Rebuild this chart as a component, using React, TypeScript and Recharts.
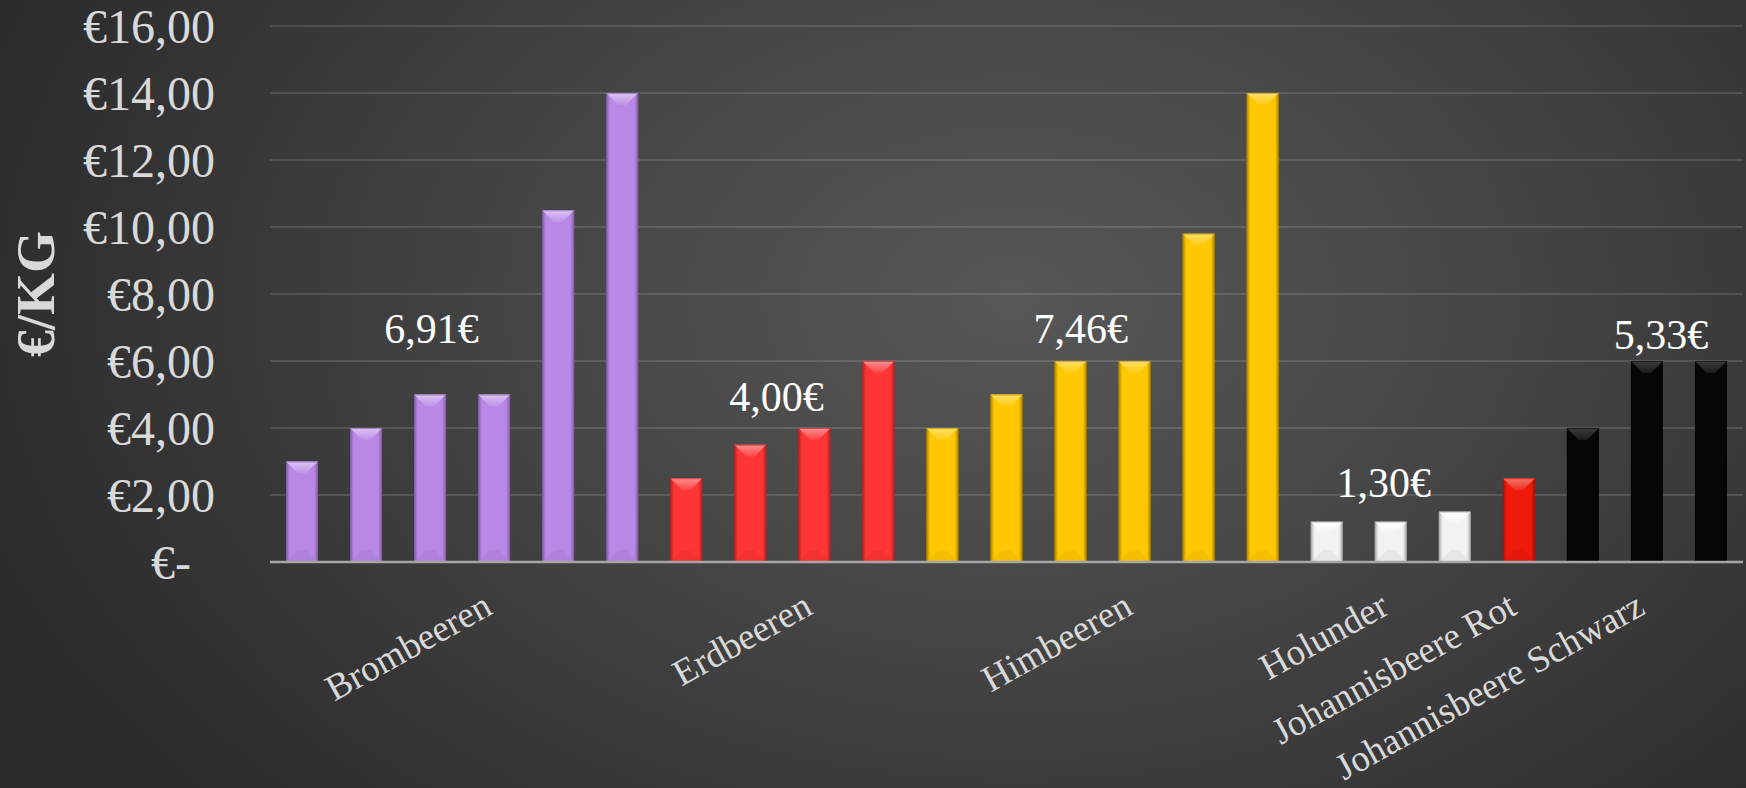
import React from 'react';
import { ComposedChart, Bar, XAxis, YAxis, CartesianGrid, Cell, ReferenceDot } from 'recharts';

// ---- data ----
const groups = ['Brombeeren', 'Erdbeeren', 'Himbeeren', 'Holunder', 'Johannisbeere Rot', 'Johannisbeere Schwarz'];
const brombeeren = [3, 4, 5, 5, 10.5, 14];
const erdbeeren = [2.5, 3.5, 4, 6];
const himbeeren = [4, 5, 6, 6, 9.8, 14];
const holunder = [1.2, 1.2, 1.5];
const johannisbeereRot = [2.5];
const johannisbeereSchwarz = [4, 6, 6];
const groupValues = [brombeeren, erdbeeren, himbeeren, holunder, johannisbeereRot, johannisbeereSchwarz];
// bar (within group) under which each category label is printed
const labelBarInGroup = [3, 2, 3, 1, 0, 1];
const yTicks = [0, 2, 4, 6, 8, 10, 12, 14, 16];
// average annotations: position in bar-index units and value units
const avgTexts = ['6,91€', '4,00€', '7,46€', '1,30€', '5,33€'];
const avgX = [2.02, 7.41, 12.16, 16.89, 21.22];
const avgY = [6.97, 4.94, 6.96, 2.36, 6.78];

// ---- styles ----
const groupColors = ['#b987e6', '#ff3434', '#ffc800', '#f2f2f2', '#ee1a0c', '#060606'];
const groupLight = [0.5, 0.45, 0.4, 1, 0.4, 0.22];
const FONT = "'Times New Roman', 'Liberation Serif', serif";
const TEXT = '#d9d9d9';

type Row = { key: string; idx: number; value: number; color: string; light: number; label: string | null };
const data: Row[] = [];
groups.forEach((g, gi) => {
  groupValues[gi].forEach((v, bi) => {
    data.push({
      key: `${g}-${bi}`,
      idx: data.length,
      value: v,
      color: groupColors[gi],
      light: groupLight[gi],
      label: bi === labelBarInGroup[gi] ? g : null,
    });
  });
});

function shade(hex: string, amt: number): string {
  const n = parseInt(hex.slice(1), 16);
  let r = (n >> 16) & 255, g = (n >> 8) & 255, b = n & 255;
  const t = amt < 0 ? 0 : 255;
  const p = Math.abs(amt);
  r = Math.round(r + (t - r) * p);
  g = Math.round(g + (t - g) * p);
  b = Math.round(b + (t - b) * p);
  return '#' + ((1 << 24) | (r << 16) | (g << 8) | b).toString(16).slice(1);
}

function BevelBar(props: any) {
  const { x, y, width: w, height: h, index } = props;
  if (!h || h <= 0) return null;
  const row = data[index];
  const fill = row.color;
  const edge = shade(fill, -0.3);
  const light = shade(fill, row.light);
  const dark = shade(fill, -0.1);
  const t = Math.min(12, h / 2);
  const s = Math.min(12, w / 2 - 3);
  const sid = `side-${index}`;
  const tid = `top-${index}`;
  return (
    <g>
      <defs>
        <linearGradient id={sid} x1="0" x2="1" y1="0" y2="0">
          <stop offset="0" stopColor={edge} />
          <stop offset="0.12" stopColor={fill} />
          <stop offset="0.88" stopColor={fill} />
          <stop offset="1" stopColor={edge} />
        </linearGradient>
        <linearGradient id={tid} x1="0" x2="0" y1="0" y2="1">
          <stop offset="0" stopColor={light} />
          <stop offset="1" stopColor={shade(fill, 0.08)} />
        </linearGradient>
      </defs>
      <rect x={x} y={y} width={w} height={h} fill={`url(#${sid})`} />
      <polygon
        points={`${x},${y} ${x + w},${y} ${x + w - s},${y + t} ${x + s},${y + t}`}
        fill={`url(#${tid})`}
      />
      <polygon
        points={`${x},${y + h} ${x + w},${y + h} ${x + w - s},${y + h - t} ${x + s},${y + h - t}`}
        fill={dark}
        opacity={0.45}
      />
      <rect x={x + 0.5} y={y + 0.5} width={w - 1} height={h - 1} fill="none" stroke={edge} strokeWidth={1} strokeOpacity={0.6} />
    </g>
  );
}

function YTick(props: any) {
  const { x, y, payload } = props;
  const v = payload.value as number;
  const txt = v === 0 ? '€-' : `€${v.toFixed(2).replace('.', ',')}`;
  return (
    <text x={x} y={y} dx={v === 0 ? -24 : 0} dy="0.35em" textAnchor="end" fontSize={48} fill={TEXT} fontFamily={FONT}>
      {txt}
    </text>
  );
}

function XTick(props: any) {
  const { x, y, payload } = props;
  const row = data.find((d) => d.key === payload.value);
  if (!row || !row.label) return null;
  return (
    <text x={x} y={y} textAnchor="end" transform={`rotate(-29, ${x}, ${y})`} fontSize={37} fill={TEXT} fontFamily={FONT}>
      {row.label}
    </text>
  );
}

function YTitle(props: any) {
  const vb = props.viewBox;
  const cx = vb.x + 35;
  const cy = vb.y + vb.height / 2;
  return (
    <text x={cx} y={cy} dy="0.35em" textAnchor="middle" transform={`rotate(-90, ${cx}, ${cy})`} fontSize={54} fontWeight="bold" fill={TEXT} fontFamily={FONT}>
      €/KG
    </text>
  );
}

function avgShape(text: string) {
  return (p: any) => (
    <text x={p.cx} y={p.cy} dy="0.34em" textAnchor="middle" fontSize={42} fill="#ffffff" fontFamily={FONT}>
      {text}
    </text>
  );
}

export default function App() {
  return (
    <div
      style={{
        width: 1746,
        height: 788,
        overflow: 'hidden',
        background: 'radial-gradient(ellipse 62% 95% at 58% 38%, #575757 0%, #454545 45%, #2b2b2b 100%)',
      }}
    >
      <style>{`body{margin:0;}`}</style>
      <ComposedChart width={1746} height={788} data={data} margin={{ top: 26, right: 3, bottom: 0, left: 0 }}>
        <CartesianGrid vertical={false} stroke="#ffffff" strokeOpacity={0.13} strokeWidth={2} />
        <XAxis
          dataKey="key"
          type="category"
          interval={0}
          height={226}
          tickSize={0}
          tickMargin={51}
          tickLine={false}
          axisLine={{ stroke: '#a6a6a6', strokeWidth: 2.5 }}
          tick={<XTick />}
        />
        <XAxis xAxisId="num" dataKey="idx" type="number" domain={[-0.5, 22.5]} allowDataOverflow hide />
        <YAxis
          width={270}
          domain={[0, 16]}
          ticks={yTicks}
          interval={0}
          tickSize={0}
          tickMargin={55}
          tickLine={false}
          axisLine={false}
          tick={<YTick />}
          label={{ content: <YTitle /> } as any}
        />
        <Bar dataKey="value" barSize={32} isAnimationActive={false} shape={<BevelBar />}>
          {data.map((d) => (
            <Cell key={d.key} fill={d.color} />
          ))}
        </Bar>
        {avgTexts.map((t, i) => (
          <ReferenceDot key={t} xAxisId="num" x={avgX[i]} y={avgY[i]} r={1} ifOverflow="visible" shape={avgShape(t)} />
        ))}
      </ComposedChart>
    </div>
  );
}
